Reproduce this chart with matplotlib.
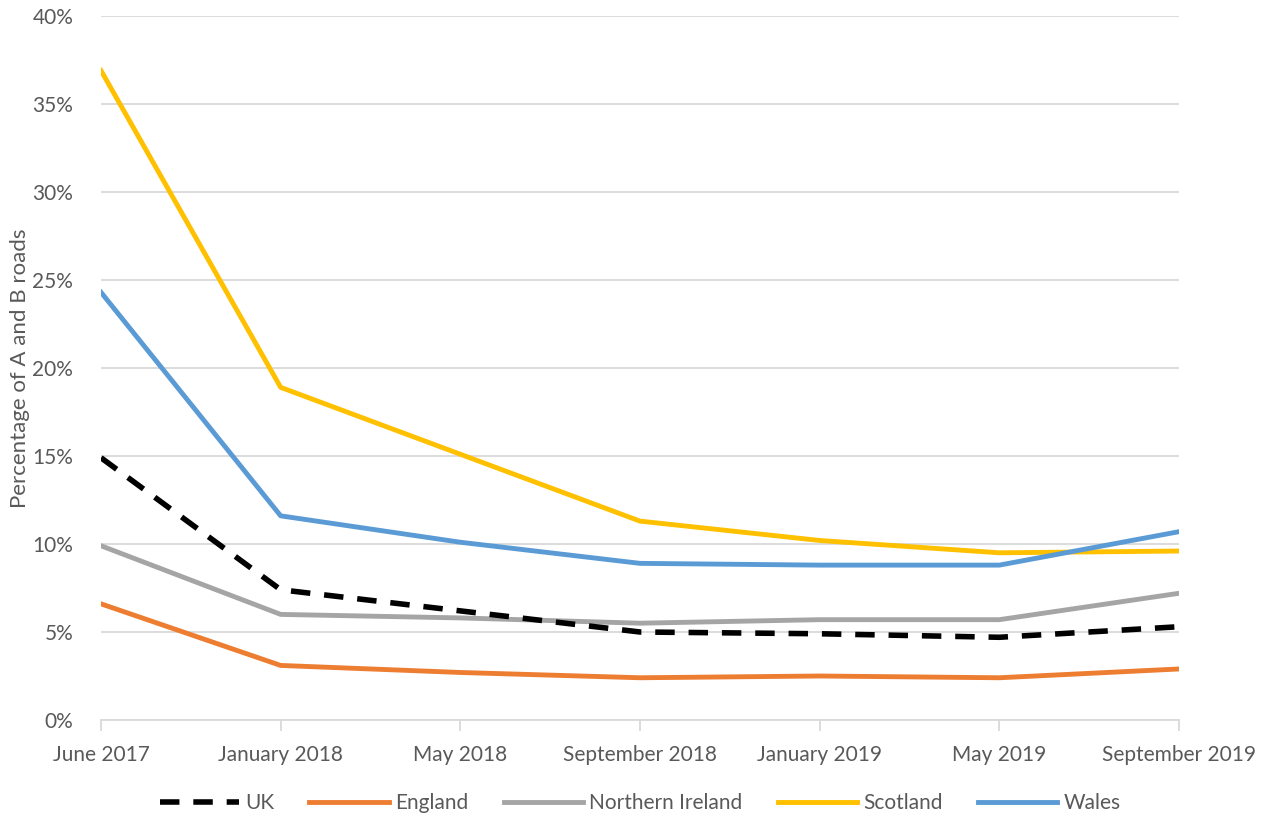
import matplotlib.pyplot as plt
from matplotlib.ticker import FuncFormatter

plt.rcParams['font.family'] = ['Lato', 'DejaVu Sans']

periods = ['June 2017', 'January 2018', 'May 2018', 'September 2018',
           'January 2019', 'May 2019', 'September 2019']
uk = [14.9, 7.4, 6.2, 5.0, 4.9, 4.7, 5.3]
england = [6.6, 3.1, 2.7, 2.4, 2.5, 2.4, 2.9]
n_ireland = [9.9, 6.0, 5.8, 5.5, 5.7, 5.7, 7.2]
scotland = [36.9, 18.9, 15.1, 11.3, 10.2, 9.5, 9.6]
wales = [24.3, 11.6, 10.1, 8.9, 8.8, 8.8, 10.7]

text_col = '#595959'
grid_col = '#d9d9d9'

fig = plt.figure(figsize=(12.71, 8.19), dpi=100)
ax = fig.add_axes([101 / 1271, 1 - 720 / 819, (1179 - 101) / 1271, (720 - 16) / 819])

x = range(len(periods))
ax.plot(x, uk, color='black', lw=4, dashes=(3.5, 2.5), label='UK', zorder=3)
ax.plot(x, england, color='#ed7d31', lw=3.5, label='England')
ax.plot(x, n_ireland, color='#a5a5a5', lw=3.5, label='Northern Ireland')
ax.plot(x, scotland, color='#ffc000', lw=3.5, label='Scotland')
ax.plot(x, wales, color='#5b9bd5', lw=3.5, label='Wales')

ax.set_xlim(0, len(periods) - 1)
ax.set_ylim(0, 40)
ax.set_yticks(range(0, 41, 5))
ax.yaxis.set_major_formatter(FuncFormatter(lambda v, p: f'{v:.0f}%'))
ax.set_xticks(list(x))
ax.set_xticklabels(periods)
ax.grid(axis='y', color=grid_col, lw=1.3)
ax.set_axisbelow(True)

for s in ['top', 'right', 'left']:
    ax.spines[s].set_visible(False)
ax.spines['bottom'].set_color(grid_col)
ax.spines['bottom'].set_linewidth(1.3)
ax.tick_params(axis='y', length=0, pad=20, labelsize=15, labelcolor=text_col)
ax.tick_params(axis='x', length=8, width=1.3, color=grid_col, pad=10,
               labelsize=15, labelcolor=text_col)

ax.set_ylabel('Percentage of A and B roads', fontsize=16, color=text_col, labelpad=2)

ax.legend(loc='center', bbox_to_anchor=(0.5, -0.118), ncol=5, frameon=False,
          fontsize=15, labelcolor=text_col, handlelength=3.8, columnspacing=1.7,
          handletextpad=0.3)

fig.savefig('out.png', dpi=100)
